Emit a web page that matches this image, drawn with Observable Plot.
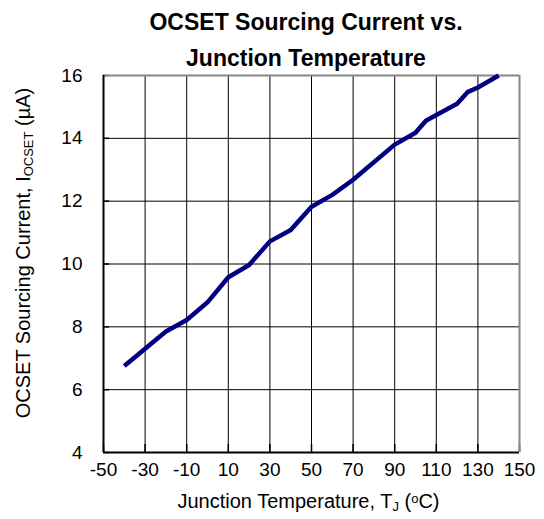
<!DOCTYPE html>
<html><head><meta charset="utf-8">
<script src="https://cdn.jsdelivr.net/npm/d3@7"></script>
<script src="https://cdn.jsdelivr.net/npm/@observablehq/plot@0.6"></script>
<style>
html,body{margin:0;padding:0;background:#fff;}
#chart{width:544px;height:519px;}
</style>
</head><body><div id="chart"></div>
<script>
// Data
const temperature = [-40, -20, -10, 0, 10, 20, 30, 40, 50, 60, 70, 90, 100, 105, 110, 120, 125, 130, 140];
const current     = [6.75, 7.85, 8.22, 8.78, 9.58, 9.97, 10.72, 11.08, 11.82, 12.2, 12.68, 13.8, 14.18, 14.56, 14.74, 15.1, 15.47, 15.62, 16.0];
const xTicks = [-50, -30, -10, 10, 30, 50, 70, 90, 110, 130, 150];
const yTicks = [4, 6, 8, 10, 12, 14, 16];
const titleLines = ["OCSET Sourcing Current vs.", "Junction Temperature"];
const xTitleParts = [["Junction Temperature, T", ""], ["J", "sub"], [" (", ""], ["o", "super"], ["C)", ""]];
const yTitleParts = [["OCSET Sourcing Current, I", ""], ["OCSET", "sub"], [" (\u00b5A)", ""]];

const rows = temperature.map((t, i) => ({t, v: current[i]}));
const plain = parts => parts.map(p => p[0]).join("");
const xTitle = plain(xTitleParts);
const yTitle = plain(yTitleParts);

const font = "Arial, 'Liberation Sans', sans-serif";

const svg = Plot.plot({
  width: 544,
  height: 519,
  marginTop: 75,
  marginLeft: 103,
  marginRight: 25,
  marginBottom: 67,
  style: {fontFamily: font, fontSize: "19px", background: "#fff", color: "#000", overflow: "visible"},
  x: {domain: [xTicks[0], xTicks[xTicks.length - 1]], ticks: xTicks, tickSize: 0, tickPadding: 10, tickFormat: d => String(d), label: null},
  y: {domain: [yTicks[0], yTicks[yTicks.length - 1]], ticks: yTicks, tickSize: 0, tickPadding: 21, tickFormat: d => String(d), label: null},
  marks: [
    Plot.ruleX(xTicks, {stroke: "#000", strokeWidth: 1}),
    Plot.ruleY(yTicks, {stroke: "#000", strokeWidth: 1}),
    Plot.ruleX(xTicks, {stroke: "#000", strokeWidth: 1.5, insetTop: 369}),
    Plot.ruleY(yTicks, {stroke: "#000", strokeWidth: 1.5, insetRight: 410}),
    Plot.ruleX([xTicks[xTicks.length - 1]], {stroke: "#888", strokeWidth: 2}),
    Plot.ruleY([yTicks[yTicks.length - 1]], {stroke: "#888", strokeWidth: 2}),
    Plot.ruleX([xTicks[0]], {stroke: "#000", strokeWidth: 2}),
    Plot.ruleY([yTicks[0]], {stroke: "#000", strokeWidth: 2}),
    Plot.line(rows, {x: "t", y: "v", stroke: "#000080", strokeWidth: 4.5, strokeLinejoin: "round", strokeLinecap: "butt"}),
    Plot.text([titleLines[0]], {frameAnchor: "top", lineAnchor: "middle", textAnchor: "middle", text: d => d, dx: -5.5, dy: -53, fontSize: 23, fontWeight: "bold", fill: "#000"}),
    Plot.text([titleLines[1]], {frameAnchor: "top", lineAnchor: "middle", textAnchor: "middle", text: d => d, dx: -5.5, dy: -17, fontSize: 23, fontWeight: "bold", fill: "#000"}),
    Plot.text([xTitle], {frameAnchor: "bottom", lineAnchor: "middle", textAnchor: "middle", text: d => d, dx: -3, dy: 49, fontSize: 20, fill: "#000"}),
    Plot.text([yTitle], {frameAnchor: "left", lineAnchor: "middle", textAnchor: "middle", text: d => d, rotate: -90, dx: -80, dy: -11, fontSize: 20, fill: "#000"})
  ]
});

// tick label font
const tickStrings = new Set([...xTicks, ...yTicks].map(String));
d3.select(svg).selectAll("text")
  .filter(function() { return tickStrings.has(this.textContent); })
  .attr("font-size", 19).style("font-size", "19px").style("font-family", font).attr("fill", "#000");

function richText(target, parts) {
  d3.select(svg).selectAll("text").filter(function() { return this.textContent === target; }).each(function() {
    const t = d3.select(this);
    t.text(null);
    for (const [s, kind] of parts) {
      const ts = t.append("tspan").text(s);
      if (kind === "sub") ts.attr("baseline-shift", "-25%").attr("font-size", "65%");
      if (kind === "super") ts.attr("baseline-shift", "40%").attr("font-size", "65%");
    }
  });
}
richText(xTitle, xTitleParts);
richText(yTitle, yTitleParts);

document.getElementById("chart").appendChild(svg);
</script>
</body></html>
